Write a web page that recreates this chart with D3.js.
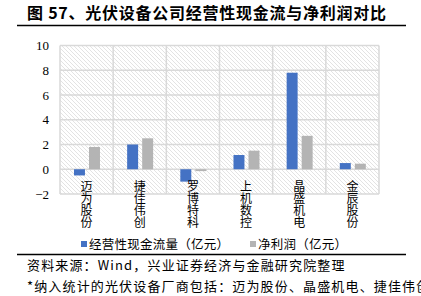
<!DOCTYPE html>
<html><head><meta charset="utf-8">
<script src="https://cdn.jsdelivr.net/npm/d3@7"></script>
<style>
html,body{margin:0;padding:0;background:#fff;}
svg{display:block;}
</style></head>
<body>
<svg id="c" width="421" height="296"></svg>
<script>
const categories = ["迈为股份","捷佳伟创","罗博特科","上机数控","晶盛机电","金辰股份"];
const cashFlow = [-0.5, 2.0, -1.0, 1.15, 7.8, 0.5];
const netProfit = [1.8, 2.5, -0.15, 1.5, 2.7, 0.45];
const seriesNames = ["经营性现金流量（亿元）","净利润（亿元）"];
const seriesColors = ["#4472C4","#B4B4B4"];
const yTicks = [-2,0,2,4,6,8,10];
const titleText = "图 57、光伏设备公司经营性现金流与净利润对比";
const sourceText = "资料来源：Wind，兴业证券经济与金融研究院整理";
const noteText = "*纳入统计的光伏设备厂商包括：迈为股份、晶盛机电、捷佳伟创、罗博特科、上机数控、金辰股份";

(function(){
const svg = d3.select("#c");
const cjk = "'Noto Sans CJK SC', 'Noto Sans', sans-serif";
const serif = "'Liberation Serif', 'DejaVu Serif', serif";

const defs = svg.append("defs");
const pat = defs.append("pattern").attr("id","hatch").attr("patternUnits","userSpaceOnUse")
  .attr("width",4).attr("height",4);
pat.append("rect").attr("width",4).attr("height",4).attr("fill","#fff");
pat.append("path").attr("d","M-1,-1L5,5M-1,3L1,5M3,-1L5,1").attr("stroke","#dcdcdc").attr("stroke-width",0.8);

svg.append("text").attr("x",27).attr("y",19).attr("font-family",cjk).attr("font-weight","bold")
  .attr("font-size",16).attr("letter-spacing",0.75).attr("fill","#000").text(titleText);
svg.append("line").attr("x1",17).attr("x2",406).attr("y1",25.5).attr("y2",25.5).attr("stroke","#000").attr("stroke-width",1.5);

const pl=60, pr=379, pt=45.5, pb=194;
const x = d3.scaleBand().domain(categories).range([pl,pr]).padding(0);
const y = d3.scaleLinear().domain([-2,10]).range([pb,pt]);
const xs = d3.scaleBand().domain([0,1]).range([x.bandwidth()*0.263, x.bandwidth()*0.752]).paddingInner(0.27).paddingOuter(0);

svg.append("rect").attr("x",pl).attr("y",pt).attr("width",pr-pl).attr("height",pb-pt).attr("fill","url(#hatch)");

const grid = svg.append("g").attr("stroke","#d9d9d9").attr("stroke-width",1.5);
yTicks.forEach(t=>grid.append("line").attr("x1",pl).attr("x2",pr).attr("y1",y(t)).attr("y2",y(t)));
categories.forEach(c=>grid.append("line").attr("x1",x(c)).attr("x2",x(c)).attr("y1",pt).attr("y2",pb));
grid.append("line").attr("x1",pr).attr("x2",pr).attr("y1",pt).attr("y2",pb);

const yAxis = d3.axisLeft(y).tickValues(yTicks).tickSize(0).tickPadding(0);
const ya = svg.append("g").attr("transform",`translate(${pl-11},0)`).call(yAxis);
ya.select(".domain").remove();
ya.selectAll("text").attr("font-family",serif).attr("font-size",13).attr("fill","#000");

const series = [cashFlow, netProfit];
series.forEach((vals,si)=>{
  svg.append("g").selectAll("rect").data(vals).join("rect")
    .attr("x",(d,i)=>x(categories[i])+xs(si))
    .attr("width",xs.bandwidth())
    .attr("y",d=>y(Math.max(0,d)))
    .attr("height",d=>Math.abs(y(d)-y(0)))
    .attr("fill",seriesColors[si]);
});

svg.append("g").selectAll("text").data(categories).join("text")
  .attr("x",c=>x(c)+x.bandwidth()/2).attr("y",180)
  .attr("font-family",cjk).attr("font-size",12).attr("fill","#000")
  .style("writing-mode","vertical-rl").style("text-orientation","upright")
  .attr("letter-spacing",0.2)
  .text(c=>c);

const lg = [81,250];
seriesNames.forEach((n,i)=>{
  svg.append("rect").attr("x",lg[i]).attr("y",241).attr("width",6).attr("height",6).attr("fill",seriesColors[i]);
  svg.append("text").attr("x",lg[i]+8).attr("y",249).attr("font-family",cjk).attr("font-size",12.5)
    .attr("letter-spacing",0.25).attr("fill","#000").text(n);
});

svg.append("line").attr("x1",17).attr("x2",406).attr("y1",254.5).attr("y2",254.5).attr("stroke","#000").attr("stroke-width",1.5);
svg.append("text").attr("x",27).attr("y",270).attr("font-family",cjk).attr("font-size",13).attr("letter-spacing",1.15).attr("fill","#000").text(sourceText);
svg.append("text").attr("x",27).attr("y",291).attr("font-family",cjk).attr("font-size",13).attr("letter-spacing",1.15).attr("fill","#000").text(noteText);
})();
</script>
</body></html>
